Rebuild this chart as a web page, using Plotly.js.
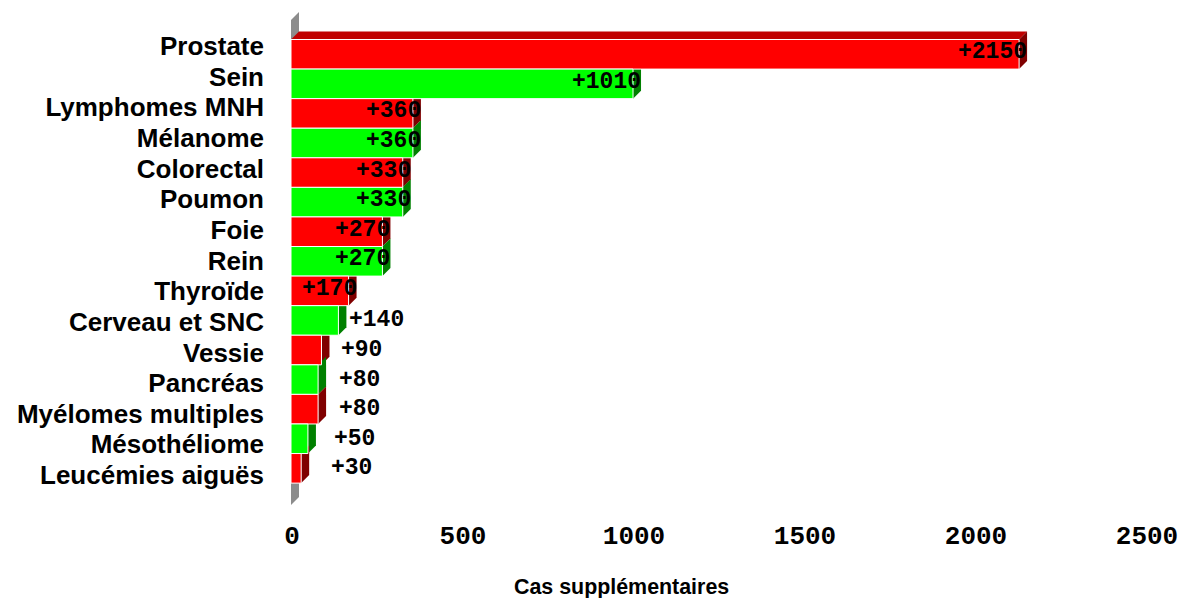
<!DOCTYPE html>
<html><head><meta charset="utf-8">
<script src="https://cdn.plot.ly/plotly-3.0.1.min.js"></script>
<style>html,body{margin:0;padding:0;background:#fff}#chart{width:1183px;height:598px}</style>
</head><body><div id="chart"></div>
<script>
const categories = ['Prostate','Sein','Lymphomes MNH','Mélanome','Colorectal','Poumon','Foie','Rein','Thyroïde','Cerveau et SNC','Vessie','Pancréas','Myélomes multiples','Mésothéliome','Leucémies aiguës'];
const values = [2150,1010,360,360,330,330,270,270,170,140,90,80,80,50,30];
const tickValues = [0,500,1000,1500,2000,2500];
const axisTitle = 'Cas supplémentaires';

const W = 1183, H = 598;
const M = {l:291, r:20, t:12, b:93};
const xMax = 2500;
const extTop = 0.93, extBot = 0.74;
const n = categories.length;
const plotW = W - M.l - M.r, plotH = H - M.t - M.b;
const pxPerRow = plotH / (n + extTop + extBot);
const half = pxPerRow / 2;
const d = 8;
// bars' scale: xMax maps to this many px from the plot's left edge
const barFullPx = 846.6;
const pxPerUnit = barFullPx / xMax;
const xRange = [0, plotW / pxPerUnit];
const dD = d / pxPerUnit;

// tick-label axis (front floor edge of the 3D box, slightly wider than the bars' scale)
const tickFirstPx = 1, tickLastPx = 856;
const uPerPx = xMax / (tickLastPx - tickFirstPx);
const x2Range = [-tickFirstPx * uPerPx, (plotW - tickFirstPx) * uPerPx];
// category-label axis (labels spread a little more than the bars)
const labFirstPx = 34, labLastPx = 463;
const labStep = (labLastPx - labFirstPx) / (n - 1);
const y2Range = [n - 1 + (plotH - labLastPx) / labStep, -labFirstPx / labStep];

const front = ['#ff0000', '#00ff00'];
const side = ['#800000', '#008000'];
const frontColors = values.map((v, i) => front[i % 2]);

const shapes = [];
const yt = (0.5 + extTop) * pxPerRow;
const yb = -(n - 0.5 + extBot) * pxPerRow;
shapes.push({type:'path', layer:'below', xref:'x', yref:'y', xsizemode:'pixel', ysizemode:'pixel',
  xanchor:0, yanchor:categories[0], fillcolor:'#8c8c8c', line:{width:0},
  path:`M 0,${yb} L ${d},${yb + d} L ${d},${yt} L 0,${yt - d} Z`});
shapes.push({type:'path', layer:'below', xref:'x', yref:'y', xsizemode:'scaled', ysizemode:'pixel',
  yanchor:categories[0], fillcolor:'#c00000', line:{width:0},
  path:`M 0,${half} L ${values[0]},${half} L ${values[0] + dD},${half + d} L ${dD},${half + d} Z`});
values.forEach((v, i) => {
  shapes.push({type:'path', layer:'below', xref:'x', yref:'y', xsizemode:'pixel', ysizemode:'pixel',
    xanchor:v, yanchor:categories[i], fillcolor:side[i % 2], line:{width:0},
    path:`M 0,${-half} L ${d},${-half + d} L ${d},${half + d} L 0,${half} Z`});
});

const labelFont = {family:'Liberation Mono, DejaVu Sans Mono, monospace', size:23, weight:'bold', color:'#000'};
const annotations = values.map((v, i) => {
  const big = v >= 170;
  return {x:v, y:categories[i], xref:'x', yref:'y', text:'+' + v, showarrow:false,
    xanchor: big ? 'right' : 'left', yanchor:'middle', yshift: big ? 2 : 0,
    xshift: big ? d + 2 : 9 + (140 - v) * 0.17, font:labelFont};
});
annotations.push({text:axisTitle, xref:'paper', yref:'paper', x:(621 - M.l) / plotW, y:0,
  xanchor:'center', yanchor:'middle', yshift:-82, showarrow:false,
  font:{family:'Liberation Sans, Arial, sans-serif', size:21.4, weight:'bold', color:'#000'}});

const data = [{
  type:'bar', orientation:'h', y:categories, x:values,
  marker:{color:frontColors, line:{color:'#ffffff', width:1}},
  width:1, hoverinfo:'none', textposition:'none'
}, {
  type:'scatter', mode:'markers', x:[null], y:[null], xaxis:'x2', yaxis:'y2',
  marker:{opacity:0}, hoverinfo:'skip', showlegend:false
}];

const layout = {
  width:W, height:H, margin:M, paper_bgcolor:'#fff', plot_bgcolor:'rgba(0,0,0,0)',
  showlegend:false, bargap:0,
  xaxis:{range:xRange, showgrid:false, zeroline:false, showline:false, ticks:'', showticklabels:false},
  yaxis:{type:'category', range:[n - 0.5 + extBot, -0.5 - extTop],
    showgrid:false, zeroline:false, showline:false, ticks:'', showticklabels:false},
  xaxis2:{overlaying:'x', anchor:'y2', side:'bottom', range:x2Range, tickvals:tickValues,
    ticktext:tickValues.map(String), showgrid:false, zeroline:false, showline:false, ticks:'',
    ticklabelstandoff:12,
    tickfont:{family:'Liberation Mono, DejaVu Sans Mono, monospace', size:26, weight:'bold', color:'#000'}},
  yaxis2:{overlaying:'y', anchor:'x2', side:'left', range:y2Range,
    tickvals:categories.map((c, i) => i), ticktext:categories,
    showgrid:false, zeroline:false, showline:false, ticks:'', ticklabelstandoff:26,
    tickfont:{family:'Liberation Sans, Arial, sans-serif', size:26, weight:'bold', color:'#000'}},
  shapes:shapes, annotations:annotations
};
Plotly.newPlot('chart', data, layout, {displayModeBar:false, staticPlot:true});
</script></body></html>
